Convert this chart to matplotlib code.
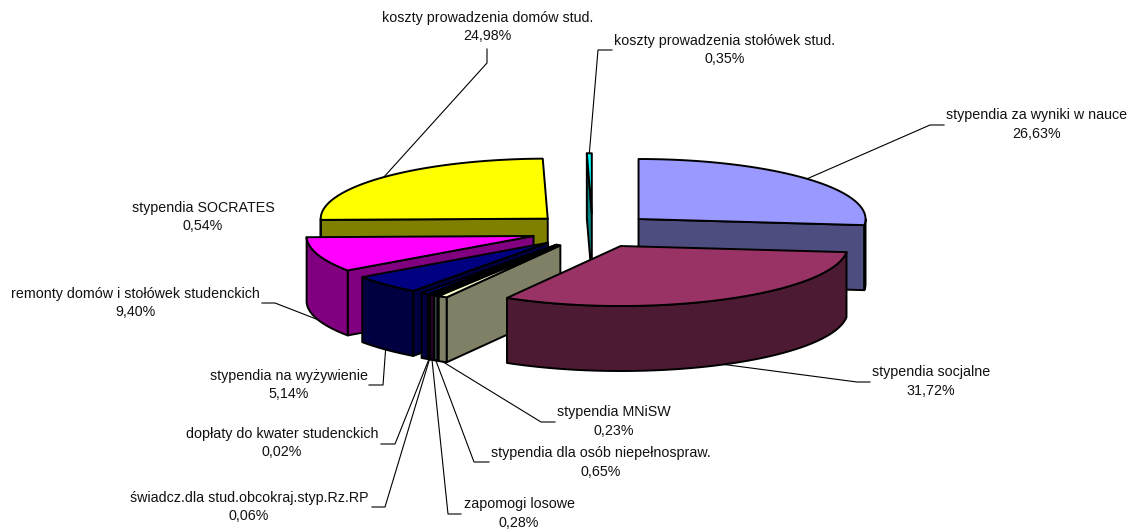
import numpy as np
import matplotlib
matplotlib.use('Agg')
import matplotlib.pyplot as plt
from matplotlib.patches import Polygon

plt.rcParams['font.family'] = ['Liberation Sans', 'DejaVu Sans']

# slices clockwise from 12 o'clock
names = ['stypendia za wyniki w nauce', 'stypendia socjalne', 'stypendia dla osób niepełnospraw.',
         'stypendia MNiSW', 'zapomogi losowe',
         'świadcz.dla stud.obcokraj.styp.Rz.RP', 'dopłaty do kwater studenckich',
         'stypendia SOCRATES', 'stypendia na wyżywienie',
         'remonty domów i stołówek studenckich', 'koszty prowadzenia domów stud.',
         'koszty prowadzenia stołówek stud.']
values = [26.63, 31.72, 0.65, 0.23, 0.28, 0.06, 0.02, 0.54, 5.14, 9.40, 24.98, 0.35]
colors = ['#9999FF', '#993366', '#FFFFCC', '#CCFFFF', '#660066', '#FF8080',
          '#0066CC', '#000080', '#000080', '#FF00FF', '#FFFF00', '#00FFFF']

# label centres in pixels
label_x = [1037, 931, 601, 614, 519, 249, 282, 203, 289, 135, 487.5, 725]
label_y = [124.5, 381.5, 462.5, 421.5, 513.5, 507, 443, 217, 385, 303, 27, 50]

# leader line elbows, None = no leader
leaders = [[(930, 125), (944, 125)], [(857, 382), (870, 382)], [(474, 462), (489, 462)],
           [(541, 422), (555, 422)], [(448, 514), (461, 514)], [(385, 507), (372, 507)],
           [(395, 444), (381, 444)], None, [(383, 385), (369, 385)], [(275, 303), (262, 303)],
           [(487, 63), (487, 49)], [(598, 50), (612, 50)]]
# the two outer leaders must not cross: MNiSW goes to the right-hand sliver
leader_from = [0, 1, 3, 2, 4, 5, 6, 7, 8, 9, 10, 11]

cx, cy = 592.5, 230.6
a, b = 227, 60
ex, ey = 62, 17.3
h = 65


def side_color(c):
    r, g, b_ = matplotlib.colors.to_rgb(c)
    return (r / 2, g / 2, b_ / 2)


def pt(ang, x0, y0, ra=a, rb=b):
    return x0 + ra * np.sin(ang), y0 - rb * np.cos(ang)


fig = plt.figure(figsize=(11.39, 5.30), dpi=100)
ax = fig.add_axes([0, 0, 1, 1])
ax.set_xlim(0, 1139)
ax.set_ylim(530, 0)
ax.axis('off')

edges = np.cumsum([0] + values) / sum(values) * 2 * np.pi
slices = []
for i in range(len(values)):
    t0, t1 = edges[i], edges[i + 1]
    mid = (t0 + t1) / 2
    x0, y0 = pt(mid, cx, cy, ex, ey)
    slices.append((y0, i, t0, t1, mid, x0))


def face(pts, c, z):
    ax.add_patch(Polygon(pts, closed=True, facecolor=c, edgecolor='black',
                         linewidth=1.4, joinstyle='round', zorder=z))


z = 2
for y0, i, t0, t1, mid, x0 in sorted(slices, key=lambda s: s[0]):
    dark = side_color(colors[i])
    # flat cut faces
    if np.sin(t0) < 0:
        rx, ry = pt(t0, x0, y0)
        face([(x0, y0), (rx, ry), (rx, ry + h), (x0, y0 + h)], dark, z)
        z += 1
    if np.sin(t1) > 0:
        rx, ry = pt(t1, x0, y0)
        face([(x0, y0), (rx, ry), (rx, ry + h), (x0, y0 + h)], dark, z)
        z += 1
    # outer wall, only the part that faces the viewer
    lo, hi = max(t0, np.pi / 2), min(t1, 3 * np.pi / 2)
    if hi > lo:
        th = np.linspace(lo, hi, 60)
        xs, ys = pt(th, x0, y0)
        face(list(zip(xs, ys)) + list(zip(xs[::-1], ys[::-1] + h)), dark, z)
        z += 1
    # top
    th = np.linspace(t0, t1, 80)
    xs, ys = pt(th, x0, y0)
    face([(x0, y0)] + list(zip(xs, ys)), colors[i], z)
    z += 1

by_index = {s[1]: s for s in slices}
for i in range(len(values)):
    if leaders[i] is None:
        continue
    y0, _, t0, t1, mid, x0 = by_index[leader_from[i]]
    sx, sy = pt(mid, x0, y0)
    if np.pi / 2 < mid < 3 * np.pi / 2:
        sy += h
    px = [sx] + [p[0] for p in leaders[i]]
    py = [sy] + [p[1] for p in leaders[i]]
    ax.plot(px, py, color='black', lw=0.8, zorder=1)

for i in range(len(values)):
    txt = names[i] + '\n' + f'{values[i]:.2f}'.replace('.', ',') + '%'
    ax.text(label_x[i], label_y[i], txt, ha='center', va='center', fontsize=10.3,
            linespacing=1.38, color='#111111', zorder=100)

fig.savefig('out.png', dpi=100)
